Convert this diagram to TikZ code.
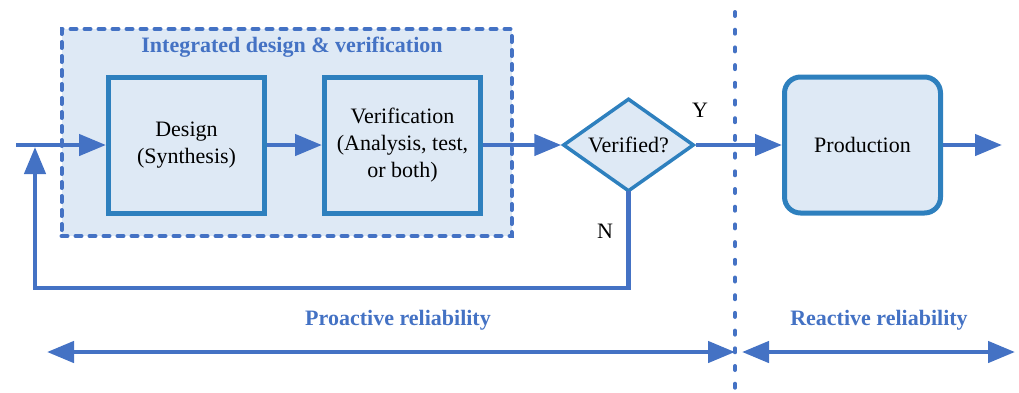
\documentclass[tikz,border=0pt]{standalone}
\usepackage{fontspec}
\setmainfont{Liberation Serif}
\usetikzlibrary{arrows.meta,shapes.geometric}
\definecolor{arrblue}{RGB}{68,114,196}
\definecolor{boxblue}{RGB}{46,128,190}
\definecolor{fillblue}{RGB}{222,233,245}
\tikzset{
  arr/.style={draw=arrblue,line width=4.5pt,-{Triangle[length=27pt,width=21pt]}},
  dblarr/.style={draw=arrblue,line width=4.5pt,{Triangle[length=27pt,width=21pt]}-{Triangle[length=27pt,width=21pt]}},
  procbox/.style={draw=boxblue,fill=fillblue,line width=5pt,minimum width=156pt,minimum height=136pt,inner sep=0pt,align=center,font=\fontsize{22}{27}\selectfont},
  lbl/.style={font=\fontsize{22}{27}\selectfont},
  bluelbl/.style={text=arrblue,font=\fontsize{22}{27}\selectfont\bfseries},
}
\begin{document}
\begin{tikzpicture}[x=1pt,y=-1pt]
\useasboundingbox (0,0) rectangle (1019,392);
% outer dashed box
\node[draw=arrblue,fill=fillblue,line width=4pt,dash pattern=on 6pt off 8pt,line cap=round,minimum width=450pt,minimum height=207pt,inner sep=0pt] (ivbox) at (286.5,132.5) {};
\node[bluelbl] (title) at (292,47) {Integrated design \& verification};
% divider
\coordinate (dtop) at (735,12);
\coordinate (dbot) at (735,392);
\draw[arrblue,line width=4pt,dash pattern=on 4pt off 13.7pt,line cap=round] (dtop) -- (dbot);
% boxes
\node[procbox] (design) at (186.5,145) {Design\\(Synthesis)};
\node[procbox] (verif) at (402.5,145) {Verification\\(Analysis, test,\\or both)};
\node[procbox,rounded corners=16pt] (prod) at (862.5,145) {Production};
\node[diamond,draw=boxblue,fill=fillblue,line width=3.5pt,minimum width=131pt,minimum height=93pt,inner sep=0pt] (ver) at (628.5,145) {};
\node[lbl] (vertxt) at (628.5,145) {Verified?};
% labels
\node[lbl] (Y) at (700,110) {Y};
\node[lbl] (N) at (605,231) {N};
% connectors
\coordinate (in) at (16,145);
\coordinate (out) at (1002,145);
\coordinate (fbc) at (35,288);
\coordinate (fbtip) at (35,147);
\draw[arr] (in) -- (design.west);
\draw[arr] (design.east) -- (verif.west);
\draw[arr] (verif.east) -- (ver.west);
\draw[arr] (ver.east) -- (prod.west);
\draw[arr] (prod.east) -- (out);
\draw[arr,line cap=rect] (ver.south) |- (fbc) -- (fbtip);
% bottom
\node[bluelbl] (pro) at (398,320) {Proactive reliability};
\node[bluelbl] (rea) at (879,320) {Reactive reliability};
\coordinate (p1) at (47,352);
\coordinate (p2) at (735,352);
\coordinate (r1) at (742,352);
\coordinate (r2) at (1015,352);
\draw[dblarr] (p1) -- (p2);
\draw[dblarr] (r1) -- (r2);
\end{tikzpicture}
\end{document}
